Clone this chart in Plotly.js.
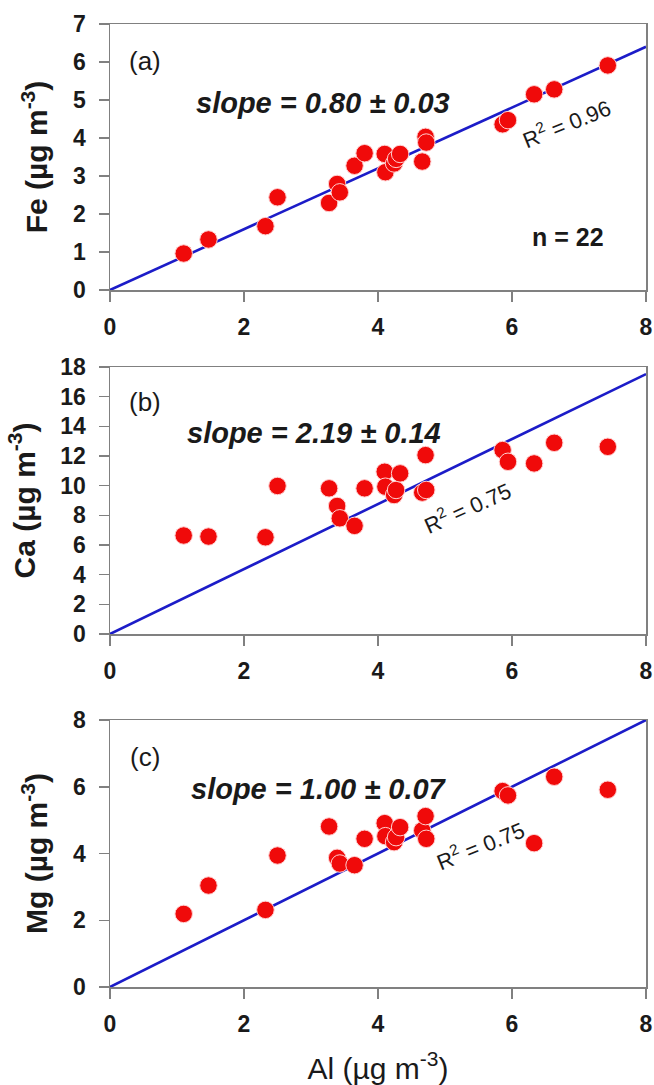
<!DOCTYPE html>
<html>
<head>
<meta charset="utf-8">
<script src="https://cdn.plot.ly/plotly-3.0.1.min.js"></script>
<style>html,body{margin:0;padding:0;background:#fff;}#chart{width:654px;height:1085px;}</style>
</head>
<body>
<div id="chart"></div>
<script>
// ---- Data ----
const al = [1.10, 1.47, 2.32, 2.50, 3.27, 3.39, 3.43, 3.65, 3.80, 4.10, 4.11, 4.24, 4.27, 4.33, 4.66, 4.71, 4.72, 5.86, 5.94, 6.33, 6.63, 7.43];
const fe = [0.96, 1.33, 1.68, 2.44, 2.29, 2.79, 2.57, 3.27, 3.60, 3.58, 3.10, 3.33, 3.45, 3.58, 3.38, 4.03, 3.88, 4.36, 4.47, 5.15, 5.28, 5.91];
const ca = [6.64, 6.57, 6.52, 9.98, 9.82, 8.63, 7.80, 7.29, 9.82, 10.94, 9.93, 9.37, 9.71, 10.83, 9.53, 12.06, 9.71, 12.40, 11.61, 11.50, 12.89, 12.62];
const mg = [2.19, 3.04, 2.31, 3.94, 4.81, 3.87, 3.70, 3.65, 4.44, 4.91, 4.52, 4.34, 4.49, 4.79, 4.69, 5.12, 4.44, 5.87, 5.74, 4.31, 6.30, 5.91];

const panelLabels = ["(a)", "(b)", "(c)"];
const elements = ["Fe", "Ca", "Mg"];
const slopes = [0.80, 2.19, 1.00];
const slopeErrs = [0.03, 0.14, 0.07];
const r2 = [0.96, 0.75, 0.75];
const nSamples = 22;
const xTickVals = [0, 2, 4, 6, 8];
const yRanges = [[0, 7], [0, 18], [0, 8]];
const yDticks = [1, 2, 2];
const xRange = [0, 8];

// ---- Styling ----
const FONT = "Liberation Sans, Arial, sans-serif";
const RED = "#f00a0a";
const BLUE = "#1c1cc8";
const AXCOL = "#808080";
const TXT = "#1a1a1a";

const ySeries = [fe, ca, mg];
const traces = [];
ySeries.forEach((ys, i) => {
  const xa = i === 0 ? "x" : "x" + (i + 1);
  const ya = i === 0 ? "y" : "y" + (i + 1);
  const fitX = xRange.slice();
  const fitY = fitX.map(v => v * slopes[i]);
  traces.push({
    x: fitX, y: fitY, xaxis: xa, yaxis: ya, mode: "lines",
    line: {color: BLUE, width: 2.6}, showlegend: false, hoverinfo: "skip"
  });
  traces.push({
    x: al, y: ys, xaxis: xa, yaxis: ya, mode: "markers",
    marker: {color: RED, size: 17.5, line: {color: "#ffd0d0", width: 1}},
    showlegend: false, cliponaxis: false
  });
});

const W = 654, H = 1085;
const xDom = [110 / W, 646 / W];
const yPix = [[24, 290], [367, 634], [720, 987]];

const layout = {
  width: W, height: H,
  margin: {l: 0, r: 0, t: 0, b: 0},
  paper_bgcolor: "#ffffff", plot_bgcolor: "#ffffff",
  font: {family: FONT, color: TXT},
  showlegend: false,
  annotations: []
};

const textPos = [
  {lab: [0.52, 6.02], slope: [3.18, 4.93], r2: [6.8, 4.40], r2ang: -22},
  {lab: [0.52, 15.65], slope: [3.05, 13.56], r2: [5.33, 8.55], r2ang: -24},
  {lab: [0.52, 6.88], slope: [3.12, 5.94], r2: [5.52, 4.25], r2ang: -22}
];

for (let i = 0; i < 3; i++) {
  const sx = i === 0 ? "" : String(i + 1);
  const yd = [1 - yPix[i][1] / H, 1 - yPix[i][0] / H];
  const xax = {
    domain: xDom, anchor: "y" + sx, range: xRange, tickvals: xTickVals,
    ticks: "outside", ticklen: 10, tickwidth: 1.5, tickcolor: AXCOL,
    showline: true, linecolor: AXCOL, linewidth: 1.5, mirror: true,
    showgrid: false, zeroline: false, automargin: false,
    ticklabelstandoff: 6,
    tickfont: {family: FONT, size: 23, color: TXT, weight: "bold"}
  };
  if (i === 2) {
    xax.title = {text: "Al (µg m<sup>-3</sup>)", font: {family: FONT, size: 30, color: TXT}, standoff: 28};
  }
  layout["xaxis" + sx] = xax;
  layout["yaxis" + sx] = {
    domain: yd, anchor: "x" + sx, range: yRanges[i], dtick: yDticks[i], tick0: 0,
    ticks: "outside", ticklen: 10, tickwidth: 1.5, tickcolor: AXCOL,
    showline: true, linecolor: AXCOL, linewidth: 1.5, mirror: true,
    showgrid: false, zeroline: false, automargin: false,
    ticklabelstandoff: 8,
    tickfont: {family: FONT, size: 23, color: TXT, weight: "bold"},
    title: {text: elements[i] + " (µg m<sup>-3</sup>)", font: {family: FONT, size: 30, color: TXT, weight: "bold"}, standoff: 16}
  };
  const xr = "x" + sx, yr = "y" + sx;
  layout.annotations.push({
    xref: xr, yref: yr, x: textPos[i].lab[0], y: textPos[i].lab[1],
    text: panelLabels[i], showarrow: false, xanchor: "center", yanchor: "middle",
    font: {family: FONT, size: 26, color: TXT}
  });
  layout.annotations.push({
    xref: xr, yref: yr, x: textPos[i].slope[0], y: textPos[i].slope[1],
    text: "<i>slope = " + slopes[i].toFixed(2) + " ± " + slopeErrs[i].toFixed(2) + "</i>",
    showarrow: false, xanchor: "center", yanchor: "middle",
    font: {family: FONT, size: 29, color: TXT, weight: "bold"}
  });
  layout.annotations.push({
    xref: xr, yref: yr, x: textPos[i].r2[0], y: textPos[i].r2[1],
    text: "R<sup>2</sup> = " + r2[i].toFixed(2), showarrow: false,
    xanchor: "center", yanchor: "middle", textangle: textPos[i].r2ang,
    font: {family: FONT, size: 22, color: TXT}
  });
}
layout.annotations.push({
  xref: "x", yref: "y", x: 6.83, y: 1.40, text: "n = " + nSamples, showarrow: false,
  xanchor: "center", yanchor: "middle", font: {family: FONT, size: 25, color: TXT, weight: "bold"}
});

Plotly.newPlot("chart", traces, layout, {staticPlot: true, displayModeBar: false});
</script>
</body>
</html>
